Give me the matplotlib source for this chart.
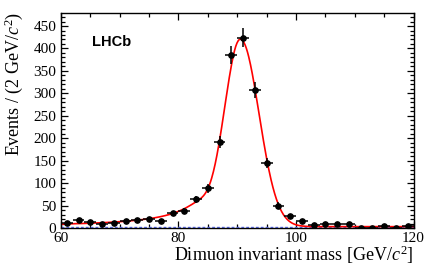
import numpy as np
import matplotlib
matplotlib.use("Agg")
import matplotlib.pyplot as plt
from matplotlib.ticker import MultipleLocator

plt.rcParams["mathtext.fontset"] = "custom"
plt.rcParams["mathtext.rm"] = "Liberation Serif"
plt.rcParams["mathtext.it"] = "Liberation Serif:italic"

# Binned dimuon mass data (2 GeV bins)
mass = [61, 63, 65, 67, 69, 71, 73, 75, 77, 79,
        81, 83, 85, 87, 89, 91, 93, 95, 97, 99,
        101, 103, 105, 107, 109, 111, 113, 115, 117, 119]
events = [12, 17, 14, 10, 12, 15, 17, 19, 16, 33,
          38, 64, 88, 192, 385, 424, 307, 145, 50, 27,
          15, 7, 9, 8, 9, 1, 1, 4, 1, 4]
bin_half = 1.0

# Fit model parameters (bifurcated Gaussian core + radiative tail + flat background)
peak_mass = 90.6
sigma_left = 2.8
sigma_right = 3.1
peak_height = 416.0
tail_norm = 1550.0
tail_power = 1.65
tail_end = 90.0
tail_cut = 84.0
tail_cut_width = 1.0
flat_bg = 3.0


def fit_model(x):
    sig = np.where(x < peak_mass, sigma_left, sigma_right)
    core = peak_height * np.exp(-0.5 * ((x - peak_mass) / sig) ** 2)
    tail = tail_norm * ((tail_end - x) ** 2 + 1.0) ** (-tail_power / 2)
    tail = tail / (1.0 + np.exp((x - tail_cut) / tail_cut_width))
    return core + tail + flat_bg


x = np.linspace(60, 120, 600)

fig = plt.figure(figsize=(4.36, 2.72), dpi=100)
ax = fig.add_axes([0.1399, 0.1618, 0.8085, 0.7904])

ax.plot(x, np.full_like(x, flat_bg), color="#5a6cf0", ls=(0, (2, 1.5)), lw=1.0)
ax.plot(x, fit_model(x), color="red", lw=1.2)

ax.errorbar(mass, events, xerr=bin_half, yerr=np.sqrt(events), fmt="o",
            color="black", ms=3.8, elinewidth=1.1, capsize=0)

ax.set_xlim(60, 120)
ax.set_ylim(0, 479)

ax.xaxis.set_major_locator(MultipleLocator(20))
ax.xaxis.set_minor_locator(MultipleLocator(5))
ax.yaxis.set_major_locator(MultipleLocator(50))
ax.yaxis.set_minor_locator(MultipleLocator(10))
ax.tick_params(which="both", direction="in", top=True, right=True, width=0.9)
ax.tick_params(which="major", length=5)
ax.tick_params(which="minor", length=2.6)
ax.tick_params(axis="y", pad=3.5)
ax.tick_params(axis="x", pad=3)
for lab in ax.get_xticklabels() + ax.get_yticklabels():
    lab.set_fontfamily("Liberation Serif")
    lab.set_fontsize(11)
for sp in ax.spines.values():
    sp.set_linewidth(1.0)

ax.set_xlabel("Dimuon invariant mass [GeV/$c^2$]", family="Liberation Serif",
              fontsize=13, loc="right", labelpad=-1)
fig.text(14 / 436, 1 - 12 / 272, "Events / (2 GeV/$c^2$)", family="Liberation Serif",
         fontsize=13, rotation=90, ha="center", va="top")

ax.text(0.088, 0.866, "LHCb", transform=ax.transAxes, family="Liberation Sans",
        fontweight="bold", fontsize=10.5, va="center", ha="left")

plt.savefig("out.png", dpi=100)
